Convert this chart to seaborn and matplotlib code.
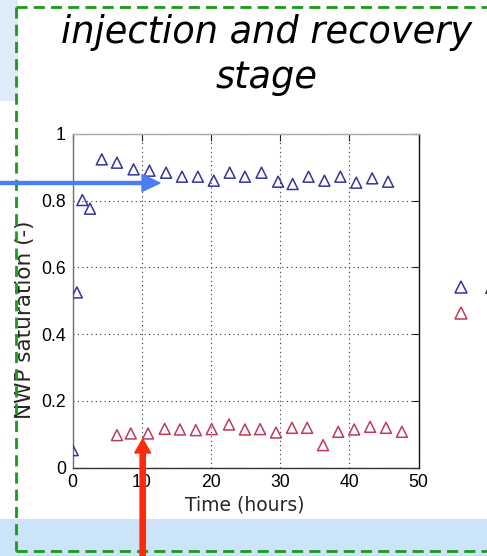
import numpy as np
import pandas as pd
import matplotlib
matplotlib.use("Agg")
import matplotlib.pyplot as plt
import seaborn as sns
from matplotlib.lines import Line2D
from matplotlib.patches import Rectangle, FancyArrow

# ---- data ----
blue_time = [0, 0.6, 1.4, 2.5, 4.2, 6.4, 8.8, 11.1, 13.5, 15.8, 18.1, 20.4,
             22.7, 24.9, 27.3, 29.7, 31.8, 34.1, 36.4, 38.7, 41.0, 43.3, 45.6]
blue_sat = [0.052, 0.525, 0.802, 0.776, 0.924, 0.914, 0.894, 0.890, 0.884,
            0.872, 0.872, 0.860, 0.884, 0.872, 0.884, 0.857, 0.850, 0.872,
            0.860, 0.872, 0.854, 0.867, 0.857]
red_time = [6.4, 8.4, 10.9, 13.3, 15.5, 17.8, 20.1, 22.6, 24.9, 27.1, 29.4,
            31.7, 33.9, 36.2, 38.4, 40.7, 43.0, 45.3, 47.6]
red_sat = [0.097, 0.102, 0.102, 0.116, 0.114, 0.112, 0.115, 0.129, 0.114,
           0.115, 0.105, 0.119, 0.119, 0.067, 0.107, 0.114, 0.122, 0.119, 0.107]
series_names = ["Air", "Liquid"]
x_ticks = [0, 10, 20, 30, 40, 50]
y_ticks = [0, 0.2, 0.4, 0.6, 0.8, 1]
y_tick_labels = ["0", "0.2", "0.4", "0.6", "0.8", "1"]
title_lines = ["injection and recovery", "stage"]

BLUE = "#3434a0"
RED = "#c23a58"

df = pd.DataFrame({
    "time": blue_time + red_time,
    "sat": blue_sat + red_sat,
    "series": [series_names[0]] * len(blue_time) + [series_names[1]] * len(red_time),
})

sns.set_style("white")
plt.rcParams["font.family"] = ["Liberation Sans", "DejaVu Sans"]

W, H = 487, 556
fig = plt.figure(figsize=(W / 100, H / 100), dpi=100)
fig.patch.set_facecolor("white")


def fx(px):
    return px / W


def fy(py):
    return 1 - py / H


# background decorations
fig.patches.append(Rectangle((0, fy(101)), fx(18), 101 / H, transform=fig.transFigure,
                             facecolor="#deecf9", edgecolor="none", zorder=0))
fig.patches.append(Rectangle((0, 0), 1, (H - 519) / H, transform=fig.transFigure,
                             facecolor="#cce4fa", edgecolor="none", zorder=0))

left, right, top, bottom = 72.7, 418.5, 134, 467.5
ax = fig.add_axes([fx(left), fy(bottom), fx(right - left), (bottom - top) / H])
ax.set_facecolor("white")

sns.scatterplot(data=df, x="time", y="sat", hue="series",
                palette={series_names[0]: BLUE, series_names[1]: RED},
                marker="^", s=62, linewidth=1.1, legend=False, ax=ax, zorder=3)
for coll in ax.collections:
    fcs = coll.get_facecolors()
    coll.set_edgecolors(fcs)
    coll.set_facecolors("none")

ax.set_xlim(0, 50)
ax.set_ylim(0, 1)
ax.set_xticks(x_ticks)
ax.set_yticks(y_ticks)
ax.set_yticklabels(y_tick_labels)
ax.tick_params(direction="in", length=5, width=0.8, labelsize=12.7, colors="#222222",
               top=True, right=True, pad=5)
ax.tick_params(axis="both", labelcolor="black")
ax.grid(True, linestyle=(0, (1, 3)), color="#333333", linewidth=0.8)
ax.set_axisbelow(True)
for side, col in [("left", "#707070"), ("top", "#aaaaaa"), ("right", "#111111"), ("bottom", "#333333")]:
    ax.spines[side].set_color(col)
    ax.spines[side].set_linewidth(1.0)
    ax.spines[side].set_visible(True)
ax.set_xlabel("Time (hours)", fontsize=13.5, family="DejaVu Sans")
ax.xaxis.set_label_coords((245 - left) / (right - left), -(505 - bottom) / (bottom - top))
ax.xaxis.label.set_va("center")
ax.set_ylabel("NWP saturation (-)", fontsize=15.5, family="DejaVu Sans")
ax.yaxis.set_label_coords(-(left - 25) / (right - left), (bottom - 320) / (bottom - top))
ax.yaxis.label.set_va("center")

# title
fig.text(fx(266.5), fy(43), title_lines[0], ha="center", va="baseline",
         fontsize=26.5, style="italic", color="black", family="DejaVu Sans")
fig.text(fx(266.5), fy(88), title_lines[1], ha="center", va="baseline",
         fontsize=26.5, style="italic", color="black", family="DejaVu Sans")

# legend (clipped at the right edge, as in the source)
handles = [Line2D([], [], marker="^", linestyle="none", markersize=8,
                  markerfacecolor="none", markeredgecolor=c, markeredgewidth=1.1)
           for c in (BLUE, RED)]
fig.legend(handles, series_names, loc="center left", bbox_to_anchor=(fx(443), fy(302)),
           frameon=False, fontsize=12.7, handlelength=1.0, handletextpad=0.9,
           labelspacing=0.5, borderpad=0)

# green dashed frame
dash = dict(color="#1a9a1a", linewidth=2.0, linestyle=(0, (4, 2.2)),
            transform=fig.transFigure, zorder=5)
fig.lines.append(Line2D([fx(16), 1], [fy(7), fy(7)], **dash))
fig.lines.append(Line2D([fx(16), fx(16)], [fy(7), fy(551)], **dash))
fig.lines.append(Line2D([fx(16), 1], [fy(551), fy(551)], **dash))

# arrows
fig.patches.append(FancyArrow(0, fy(183), fx(160), 0, width=3 / H, head_width=17 / H,
                              head_length=fx(18), length_includes_head=True,
                              transform=fig.transFigure, color="#4a7ef2", zorder=6))
fig.patches.append(FancyArrow(fx(142.7), 0, 0, (H - 439) / H, width=fx(5.3),
                              head_width=fx(16), head_length=14 / H,
                              length_includes_head=True, transform=fig.transFigure,
                              color="#ff2a0a", zorder=6))

fig.savefig("out.png", dpi=100)
